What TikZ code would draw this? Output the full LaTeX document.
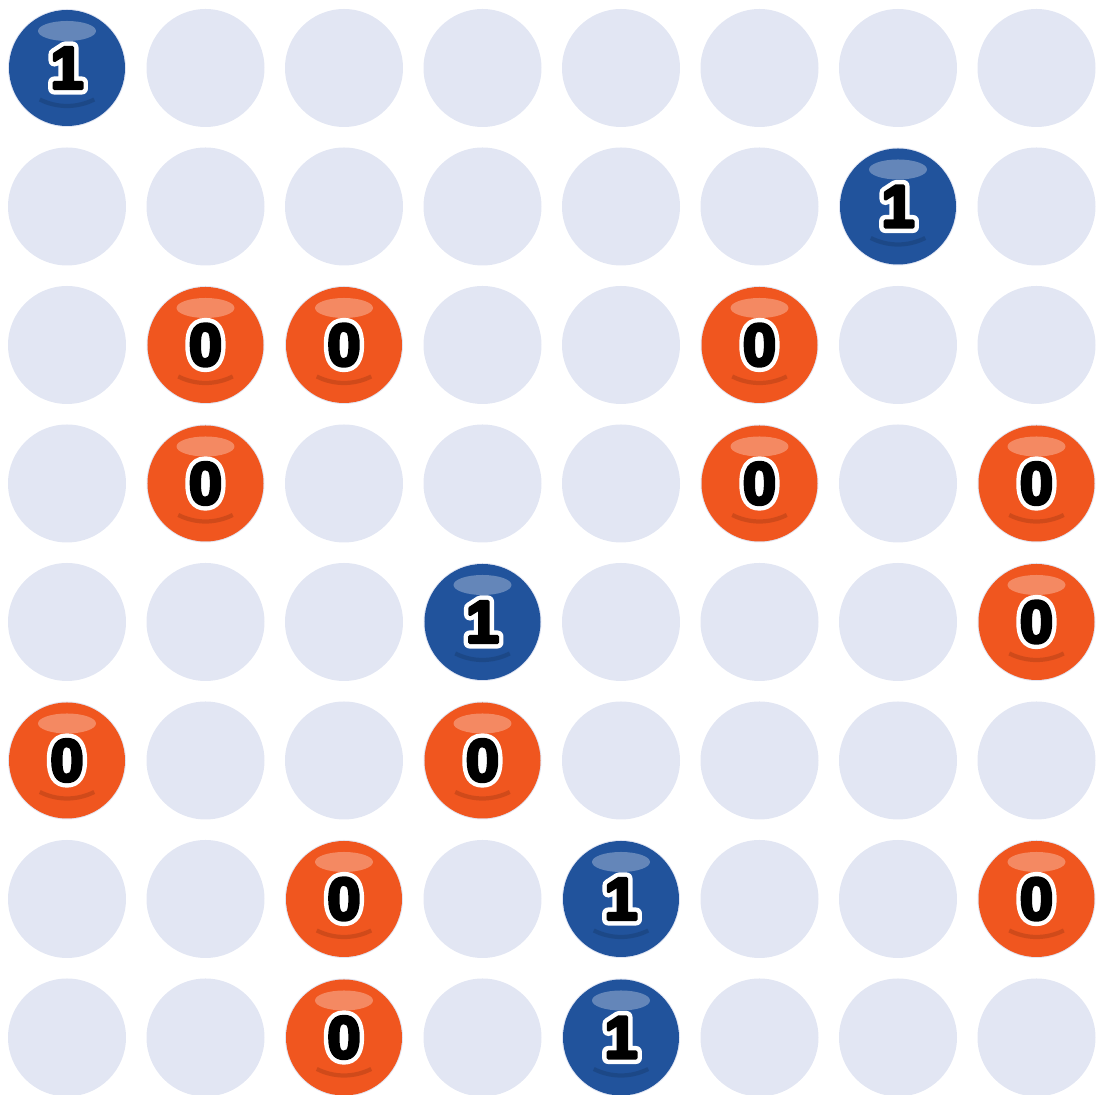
\documentclass[tikz,border=0pt]{standalone}
\usepackage{fontspec}
\setmainfont{Liberation Sans}
\definecolor{slotgray}{HTML}{E2E6F3}
\definecolor{oneblue}{HTML}{21539C}
\definecolor{zeroorange}{HTML}{F0561F}

% digit with a white rim around it (stroked text, then heavy black text on top)
\newcommand\rimDigit[1]{%
  \rlap{\special{pdf:literal direct 2 Tr 3.4 w 1 j 1 1 1 RG 1 1 1 rg}#1\special{pdf:literal direct 0 Tr}}%
  \special{pdf:literal direct 2 Tr 0.9 w 1 j 0 0 0 RG 0 0 0 rg}#1\special{pdf:literal direct 0 Tr}}

\begin{document}
\begin{tikzpicture}[
  slot/.style={circle, fill=slotgray, minimum size=1.18cm, inner sep=0pt},
  ball/.style={circle, minimum size=1.16cm, inner sep=0pt,
    font=\fontsize{17}{17}\selectfont\bfseries,
    path picture={
      \fill[white, opacity=0.3] ([yshift=0.37cm]path picture bounding box.center)
        ellipse [x radius=0.29cm, y radius=0.1cm];
      \draw[black, opacity=0.13, line width=1.2pt]
        ([yshift=0.22cm]path picture bounding box.center) ++(243:0.6)
        arc[start angle=243, end angle=297, radius=0.6];
    }},
  bit0/.style={fill=zeroorange},
  bit1/.style={fill=oneblue}]
  \useasboundingbox (0,0) rectangle (10.99,-10.95);

  % leere Plätze, 8 x 8
  \foreach \r in {0,...,7}
    \foreach \c in {0,...,7}
      \node[slot] (s\r\c) at ({0.67+1.385*\c},{-0.68-1.385*\r}) {};

  % Kugeln: Zeile/Spalte/Wert
  \foreach \r/\c/\v in {0/0/1, 1/6/1,
      2/1/0, 2/2/0, 2/5/0,
      3/1/0, 3/5/0, 3/7/0,
      4/3/1, 4/7/0,
      5/0/0, 5/3/0,
      6/2/0, 6/4/1, 6/7/0,
      7/2/0, 7/4/1}
    \node[ball, bit\v] (b\r\c) at (s\r\c) {\rimDigit{\v}};
\end{tikzpicture}
\end{document}
